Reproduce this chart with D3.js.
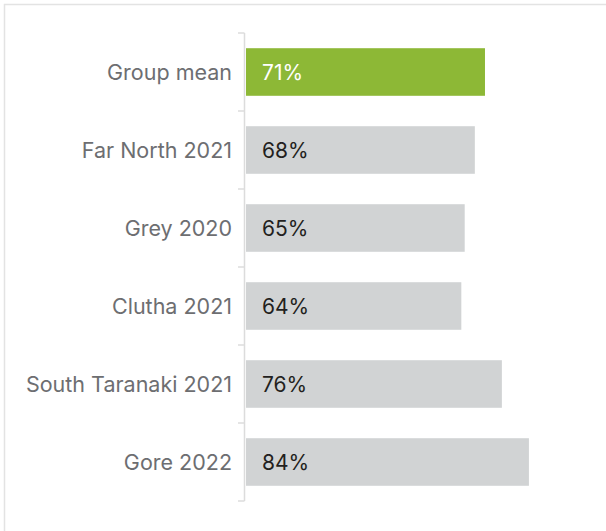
<!DOCTYPE html>
<html>
<head>
<meta charset="utf-8">
<script src="https://cdn.jsdelivr.net/npm/d3@7"></script>
<style>
  body { margin: 0; background: #fff; }
  svg { display: block; }
</style>
</head>
<body>
<div id="chart"></div>
<script>
// data
const categories = ["Group mean", "Far North 2021", "Grey 2020", "Clutha 2021", "South Taranaki 2021", "Gore 2022"];
const values = [71, 68, 65, 64, 76, 84];
const highlight = ["Group mean"];

const width = 606;
const height = 531;

const svg = d3.select("#chart")
    .append("svg")
    .attr("width", width)
    .attr("height", height);

// outer frame
svg.append("rect")
    .attr("x", 4.5)
    .attr("y", 4.5)
    .attr("width", width + 10)
    .attr("height", height + 10)
    .attr("fill", "none")
    .attr("stroke", "#e3e3e3")
    .attr("stroke-width", 1.5);

const x = d3.scaleLinear()
    .domain([0, 100])
    .range([245, 583]);

const y = d3.scaleBand()
    .domain(categories)
    .range([33, 501])
    .paddingInner(0.39)
    .paddingOuter(0.195);

// axis: vertical line with ticks between categories
const axisG = svg.append("g").attr("class", "axis");
const bandEdges = categories.map(c => y(c) - y.step() * y.paddingInner() / 2);
bandEdges.push(y(categories[categories.length - 1]) + y.bandwidth() + y.step() * y.paddingInner() / 2);

axisG.append("line")
    .attr("x1", x(0) - 0.5).attr("x2", x(0) - 0.5)
    .attr("y1", bandEdges[0]).attr("y2", bandEdges[bandEdges.length - 1])
    .attr("stroke", "#dcdcdc")
    .attr("stroke-width", 1.5);

axisG.selectAll(".tick")
    .data(bandEdges)
    .enter().append("line")
    .attr("class", "tick")
    .attr("x1", x(0) - 7).attr("x2", x(0) - 0.5)
    .attr("y1", d => d).attr("y2", d => d)
    .attr("stroke", "#dcdcdc")
    .attr("stroke-width", 1.5);

// bars
svg.append("g")
    .selectAll("rect")
    .data(categories)
    .enter().append("rect")
    .attr("x", x(0) + 1)
    .attr("y", d => y(d))
    .attr("width", (d, i) => x(values[i]) - x(0) - 1)
    .attr("height", y.bandwidth())
    .attr("fill", d => highlight.includes(d) ? "#8db836" : "#d1d3d4");

// value labels
svg.append("g")
    .selectAll("text")
    .data(categories)
    .enter().append("text")
    .attr("x", x(0) + 17)
    .attr("y", d => y(d) + y.bandwidth() / 2)
    .attr("dy", "0.36em")
    .style("font-family", "Inter, 'Noto Sans', sans-serif")
    .style("font-size", "21px")
    .style("fill", d => highlight.includes(d) ? "#ffffff" : "#231f20")
    .text((d, i) => values[i] + "%");

// category labels
svg.append("g")
    .selectAll("text")
    .data(categories)
    .enter().append("text")
    .attr("x", 232)
    .attr("y", d => y(d) + y.bandwidth() / 2)
    .attr("dy", "0.36em")
    .attr("text-anchor", "end")
    .style("font-family", "Inter, 'Noto Sans', sans-serif")
    .style("font-size", "21.5px")
    .style("fill", "#6d6e71")
    .text(d => d);
</script>
</body>
</html>
